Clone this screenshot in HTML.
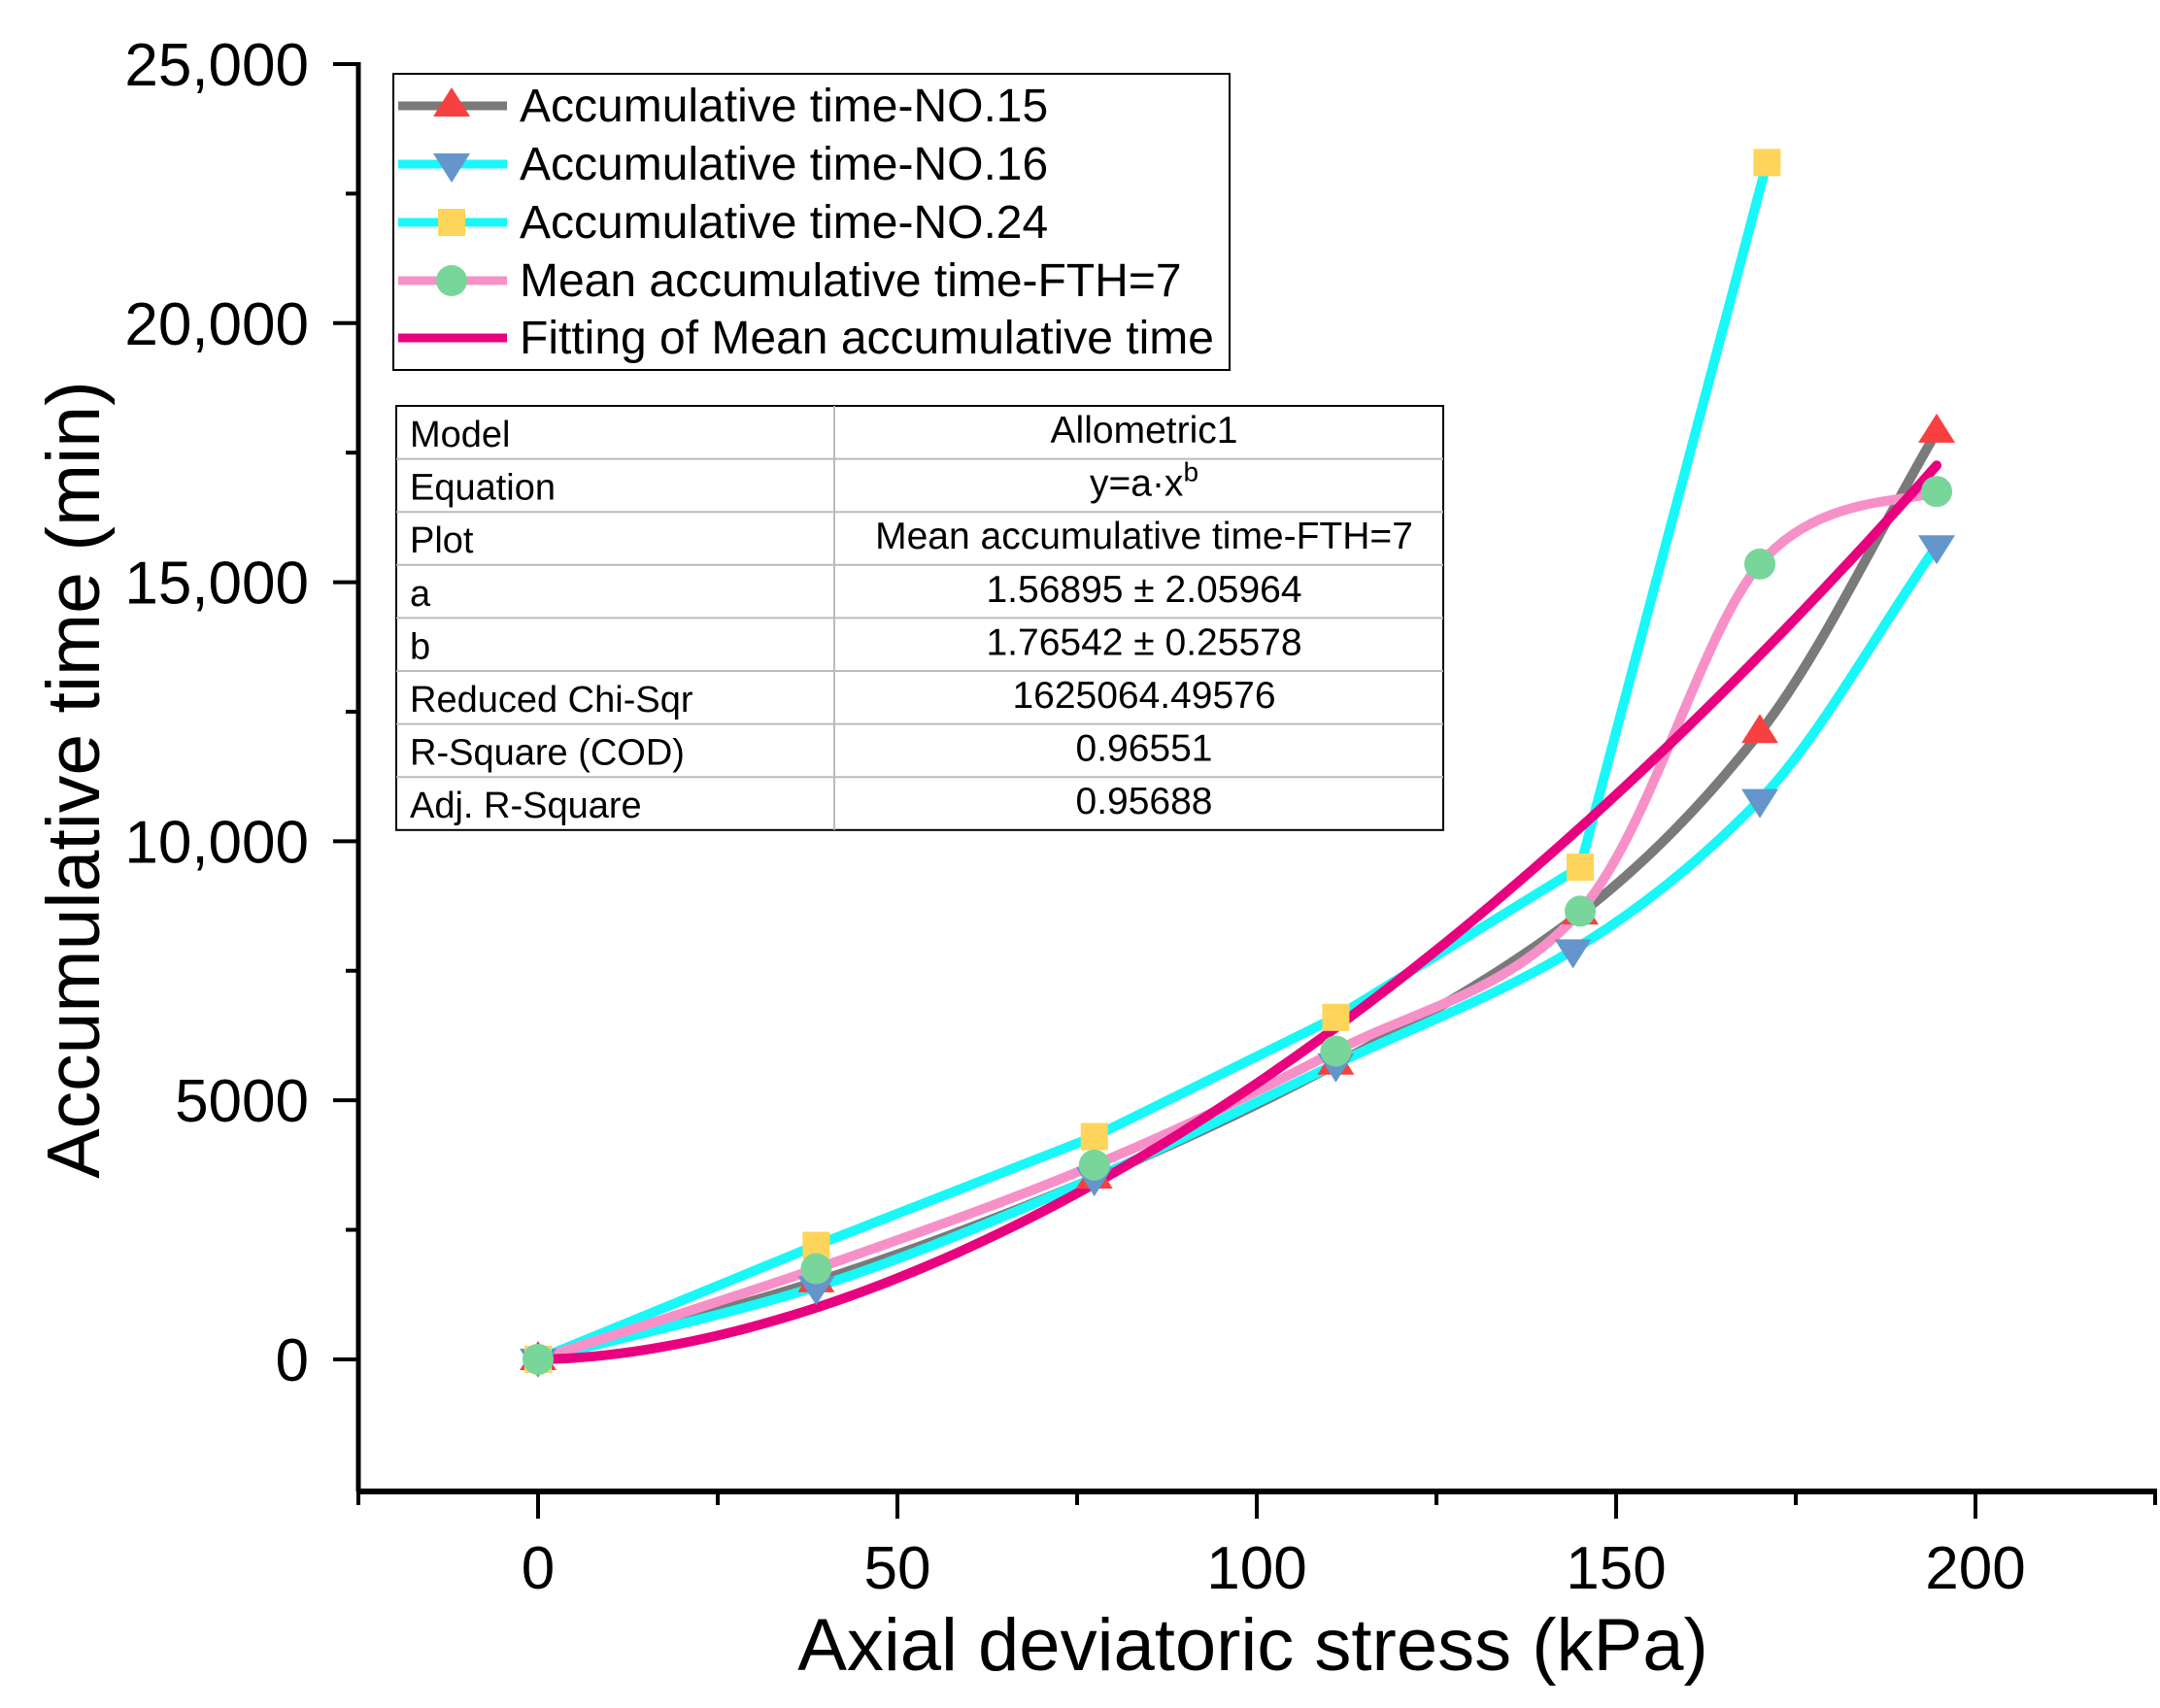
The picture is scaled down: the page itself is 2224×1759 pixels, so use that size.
<!DOCTYPE html>
<html><head><meta charset="utf-8"><style>
body{margin:0;background:#fff}
svg{display:block;font-family:"Liberation Sans",sans-serif}
</style></head><body>
<svg id="chart" width="2224" height="1759" viewBox="0 0 2224 1759">
<g id="plot"></g>
<g id="axes"></g>
<g id="legend"></g>
<g id="table"></g>
</svg>
<script>
const xNO15=[0,38.7,77.4,111,145,170,194.6];
const yNO15=[0,1500,3500,5700,8600,12100,17900];
const xNO16=[0,38.7,77.4,111,144,170,194.6];
const yNO16=[0,1400,3500,5700,7900,10800,15700];
const xNO24=[0,38.7,77.4,111,145,171];
const yNO24=[0,2200,4300,6600,9500,23100];
const xMean=[0,38.7,77.4,111,145,170,194.6];
const yMean=[0,1750,3750,5950,8650,15350,16750];
const fitA=1.56895, fitB=1.76542, fitXMax=194.6;
const xTicks=[0,50,100,150,200];
const xTickLabels=["0","50","100","150","200"];
const yTicks=[0,5000,10000,15000,20000,25000];
const yTickLabels=["0","5000","10,000","15,000","20,000","25,000"];
const legendLabels=["Accumulative time-NO.15","Accumulative time-NO.16","Accumulative time-NO.24","Mean accumulative time-FTH=7","Fitting of Mean accumulative time"];
const tableKeys=["Model","Equation","Plot","a","b","Reduced Chi-Sqr","R-Square (COD)","Adj. R-Square"];
const tableVals=["Allometric1","y=a·x<tspan baseline-shift='super' font-size='28'>b</tspan>","Mean accumulative time-FTH=7","1.56895 ± 2.05964","1.76542 ± 0.25578","1625064.49576","0.96551","0.95688"];

const NS="http://www.w3.org/2000/svg";
const X0=369,X1=2219,XMIN=-25,XMAX=225;
const Y0=1536,Y1=66,YMIN=-2550,YMAX=25000;
const sx=v=>X0+(v-XMIN)/(XMAX-XMIN)*(X1-X0);
const sy=v=>Y0-(v-YMIN)/(YMAX-YMIN)*(Y0-Y1);
function el(tag,attrs,parent){const e=document.createElementNS(NS,tag);for(const k in attrs)e.setAttribute(k,attrs[k]);parent.appendChild(e);return e;}
function cr(pts){let d=`M${pts[0][0]},${pts[0][1]}`;for(let i=0;i<pts.length-1;i++){const p0=pts[i-1]||pts[i],p1=pts[i],p2=pts[i+1],p3=pts[i+2]||p2;
d+=` C${p1[0]+(p2[0]-p0[0])/6},${p1[1]+(p2[1]-p0[1])/6} ${p2[0]-(p3[0]-p1[0])/6},${p2[1]-(p3[1]-p1[1])/6} ${p2[0]},${p2[1]}`;}return d;}
function mono(pts){const n=pts.length,dx=[],m=[],t=[];
for(let i=0;i<n-1;i++){dx.push(pts[i+1][0]-pts[i][0]);m.push((pts[i+1][1]-pts[i][1])/dx[i]);}
t[0]=m[0];t[n-1]=m[n-2];for(let i=1;i<n-1;i++){t[i]=(m[i-1]*m[i]<=0)?0:2/(1/m[i-1]+1/m[i]);}
let d=`M${pts[0][0]},${pts[0][1]}`;for(let i=0;i<n-1;i++){const h=dx[i]/3;
d+=` C${pts[i][0]+h},${pts[i][1]+t[i]*h} ${pts[i+1][0]-h},${pts[i+1][1]-t[i+1]*h} ${pts[i+1][0]},${pts[i+1][1]}`;}return d;}
function lin(pts){return 'M'+pts.map(p=>p.join(',')).join(' L');}
const plot=document.getElementById('plot');
function series(xs,ys,color,name,fn){const pts=xs.map((x,i)=>[sx(x),sy(ys[i])]);
const p=el('path',{d:fn(pts),fill:'none',stroke:color,'stroke-width':10,'stroke-linecap':'round','stroke-linejoin':'round'},plot);

}
function marker(g,type,cx,cy){let e;
if(type==='up')e=el('polygon',{points:`${cx-19},${cy+11} ${cx+19},${cy+11} ${cx},${cy-19}`,fill:'#f84040'},g);
else if(type==='down')e=el('polygon',{points:`${cx-19},${cy-11} ${cx+19},${cy-11} ${cx},${cy+19}`,fill:'#6496cc'},g);
else if(type==='sq')e=el('rect',{x:cx-14,y:cy-14,width:28,height:28,fill:'#ffd45a'},g);
else e=el('ellipse',{cx:cx,cy:cy,rx:16,ry:16,fill:'#78d69a'},g);return e;}
series(xNO15,yNO15,'#7a7a7a','line-no15',mono);
series(xNO16,yNO16,'#18f8f8','line-no16',mono);
series(xNO24,yNO24,'#18f8f8','line-no24',lin);
series(xMean,yMean,'#f890c8','line-mean',cr);
const fitPts=[];for(let i=0;i<=100;i++){const x=fitXMax*i/100;fitPts.push([sx(x),sy(fitA*Math.pow(x,fitB))]);}
const fp=el('path',{d:'M'+fitPts.map(p=>p.join(',')).join(' L'),fill:'none',stroke:'#e8007e','stroke-width':10,'stroke-linecap':'round'},plot);


[[xNO15,yNO15,'up','marker-no15'],[xNO16,yNO16,'down','marker-no16'],[xNO24,yNO24,'sq','marker-no24'],[xMean,yMean,'ci','marker-mean']].forEach(s=>{
s[0].forEach((x,i)=>{const m=marker(plot,s[2],sx(x),sy(s[1][i]));

});});

const ax=document.getElementById('axes');
el('line',{x1:X0,y1:Y0,x2:X0,y2:Y1-2,stroke:'#000','stroke-width':5},ax);
el('line',{x1:X0-2,y1:Y0,x2:X1+2,y2:Y0,stroke:'#000','stroke-width':6},ax);
for(let v=-25;v<=225;v+=25){const major=v%50===0;el('line',{x1:sx(v),y1:Y0,x2:sx(v),y2:Y0+(major?28:14),stroke:'#000','stroke-width':4},ax);}
xTicks.forEach((v,i)=>{const t=el('text',{x:sx(v),y:1636,'font-size':62,'text-anchor':'middle'},ax);t.textContent=xTickLabels[i];

});
for(let v=0;v<=25000;v+=2500){const major=v%5000===0;el('line',{x1:X0,y1:sy(v),x2:X0-(major?26:13),y2:sy(v),stroke:'#000','stroke-width':4},ax);}
yTicks.forEach((v,i)=>{const t=el('text',{x:318,y:sy(v)+22,'font-size':62,'text-anchor':'end'},ax);t.textContent=yTickLabels[i];

});
const xt=el('text',{x:1290,y:1720,'font-size':76,'text-anchor':'middle'},ax);xt.textContent='Axial deviatoric stress (kPa)';


const yt=el('text',{x:0,y:0,'font-size':77,'text-anchor':'middle',transform:'translate(102,803) rotate(-90)'},ax);yt.textContent='Accumulative time (min)';



const lg=document.getElementById('legend');
el('rect',{x:405,y:76,width:861,height:305,fill:'#fff',stroke:'#000','stroke-width':2},lg);
const lcols=['#7a7a7a','#18f8f8','#18f8f8','#f890c8','#e8007e'];const ltypes=['up','down','sq','ci',null];
const lys=[109,169,229,289,348];
legendLabels.forEach((s,i)=>{const y=lys[i];
el('line',{x1:410,y1:y,x2:522,y2:y,stroke:lcols[i],'stroke-width':9},lg);
if(ltypes[i])marker(lg,ltypes[i],465,y);
const t=el('text',{x:535,y:y+16,'font-size':48},lg);t.textContent=s;

});

const tb=document.getElementById('table');
const TX0=408,TX1=1486,TXM=859,TY0=418,RH=54.6;
el('rect',{x:TX0,y:TY0,width:TX1-TX0,height:RH*8,fill:'#fff',stroke:'#000','stroke-width':2},tb);
el('line',{x1:TXM,y1:TY0,x2:TXM,y2:TY0+RH*8,stroke:'#bbb','stroke-width':2},tb);
tableKeys.forEach((k,i)=>{const y=TY0+RH*i;
if(i>0)el('line',{x1:TX0,y1:y,x2:TX1,y2:y,stroke:'#bbb','stroke-width':2},tb);
const a=el('text',{x:422,y:y+42,'font-size':38},tb);a.textContent=k;


const b=el('text',{x:1178,y:y+38,'font-size':39,'text-anchor':'middle'},tb);b.innerHTML=tableVals[i];

});
</script>
</body></html>
